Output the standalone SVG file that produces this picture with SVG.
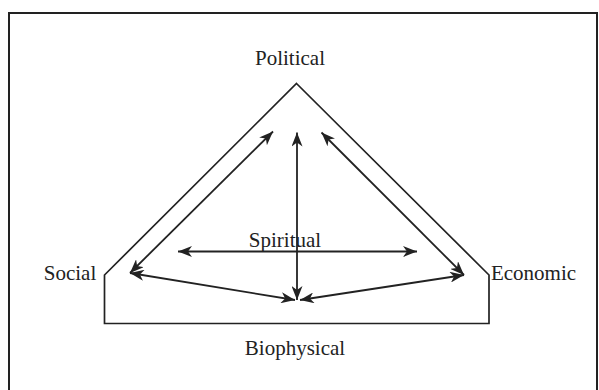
<svg xmlns="http://www.w3.org/2000/svg" width="599" height="390" viewBox="0 0 599 390">
<defs>
<marker id="ah" viewBox="0 0 14 11" refX="14" refY="5.5" markerWidth="14" markerHeight="11" markerUnits="userSpaceOnUse" orient="auto-start-reverse">
<path d="M0,0 L14,5.5 L0,11 L4,5.5 z" fill="#222"/>
</marker>
</defs>
<style>
.lbl{font-family:"Liberation Serif","Times New Roman",serif;font-size:21px;fill:#222;}
.ln{stroke:#222;stroke-width:1.7;fill:none;}
.ar{stroke:#222;stroke-width:1.8;fill:none;marker-start:url(#ah);marker-end:url(#ah);}
</style>
<rect width="599" height="390" fill="#fff"/>
<path d="M9,390 L9,13 L597,13 L597,390" fill="none" stroke="#222" stroke-width="2"/>
<g id="outline">
<path class="ln" d="M296.5,83.5 L489,275 L489,323.5 L104.5,323.5 L104.5,275 Z"/>
</g>
<g id="political"><text class="lbl" x="290" y="65" text-anchor="middle">Political</text></g>
<g id="social"><text class="lbl" x="70" y="280" text-anchor="middle">Social</text></g>
<g id="economic"><text class="lbl" x="533.5" y="280" text-anchor="middle">Economic</text></g>
<g id="spiritual"><text class="lbl" x="285" y="247" text-anchor="middle">Spiritual</text></g>
<g id="biophysical"><text class="lbl" x="295" y="355" text-anchor="middle">Biophysical</text></g>
<g id="connectors">
<line class="ar" x1="130" y1="273" x2="273" y2="131.5"/>
<line class="ar" x1="297" y1="132.5" x2="297" y2="300"/>
<line class="ar" x1="321.5" y1="132.5" x2="464" y2="275"/>
<line class="ar" x1="178" y1="251.5" x2="417" y2="251.5"/>
<line class="ar" x1="130" y1="273" x2="295" y2="300"/>
<line class="ar" x1="300" y1="300" x2="464" y2="275"/>
</g>
</svg>
